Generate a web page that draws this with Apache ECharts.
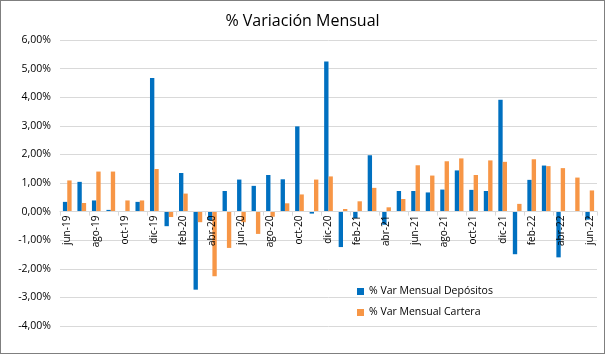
<!DOCTYPE html>
<html>
<head>
<meta charset="utf-8">
<script src="https://cdn.jsdelivr.net/npm/echarts@6/dist/echarts.min.js"></script>
<style>
  html, body { margin: 0; padding: 0; background: #fff; }
  #chart { width: 603px; height: 352px; border: 1px solid #7f7f7f; }
</style>
</head>
<body>
<div id="chart"></div>
<script>
// meses jun-19 .. jun-22
const meses = [
    'jun-19', 'jul-19', 'ago-19', 'sep-19', 'oct-19', 'nov-19', 'dic-19',
    'ene-20', 'feb-20', 'mar-20', 'abr-20', 'may-20', 'jun-20', 'jul-20', 'ago-20', 'sep-20', 'oct-20', 'nov-20', 'dic-20',
    'ene-21', 'feb-21', 'mar-21', 'abr-21', 'may-21', 'jun-21', 'jul-21', 'ago-21', 'sep-21', 'oct-21', 'nov-21', 'dic-21',
    'ene-22', 'feb-22', 'mar-22', 'abr-22', 'may-22', 'jun-22'
];

// valores en %
const depositos = [
    0.34, 1.04, 0.39, 0.06, 0.01, 0.34, 4.67,
    -0.51, 1.35, -2.73, -0.30, 0.72, 1.12, 0.90, 1.28, 1.13, 2.98, -0.07, 5.25,
    -1.24, -0.23, 1.97, -0.46, 0.72, 0.72, 0.67, 0.77, 1.44, 0.76, 0.72, 3.91,
    -1.49, 1.11, 1.61, -1.60, 0.02, -0.28
];

const cartera = [
    1.09, 0.30, 1.40, 1.40, 0.39, 0.39, 1.49,
    -0.19, 0.63, -0.37, -2.26, -1.27, -0.37, -0.78, -0.18, 0.29, 0.60, 1.12, 1.23,
    0.09, 0.36, 0.83, 0.15, 0.44, 1.62, 1.26, 1.76, 1.86, 1.28, 1.79, 1.74,
    0.27, 1.83, 1.59, 1.52, 1.19, 0.74
];

const ejeMin = -4;
const ejeMax = 6;

const fuente = 'Open Sans, Noto Sans, sans-serif';

const contenedor = document.getElementById('chart');
var myChart = echarts.init(contenedor);
var option;

// el eje de categorías va sobre la línea del 0%
const grid = { left: 59, right: 7, top: 39, bottom: 27 };
const altoGrid = contenedor.clientHeight - grid.top - grid.bottom;
const desplazamiento = -altoGrid * (0 - ejeMin) / (ejeMax - ejeMin);

option = {
    animation: false,
    title: {
        text: '% Variación Mensual',
        left: 'center',
        top: 7,
        textStyle: { fontFamily: fuente, fontSize: 16, fontWeight: 'normal', color: '#000' }
    },
    legend: {
        orient: 'vertical',
        left: 351,
        top: 280,
        itemWidth: 7,
        itemHeight: 7,
        itemGap: 10,
        icon: 'rect',
        textStyle: { fontFamily: fuente, fontSize: 10.5, color: '#000' }
    },
    grid: Object.assign({ outerBoundsMode: 'none' }, grid),
    xAxis: {
        type: 'category',
        data: meses,
        offset: desplazamiento,
        z: 5, // etiquetas encima de las barras, como en Excel
        axisLine: { onZero: false, lineStyle: { color: '#d9d9d9' } },
        axisTick: { show: true, interval: 1, length: 4, lineStyle: { color: '#d9d9d9' } },
        axisLabel: {
            interval: 1,
            rotate: 90,
            margin: 4,
            fontFamily: fuente,
            fontSize: 10,
            color: '#000'
        }
    },
    yAxis: {
        type: 'value',
        min: ejeMin,
        max: ejeMax,
        interval: 1,
        splitLine: { lineStyle: { color: '#d9d9d9' } },
        axisLabel: {
            fontFamily: fuente,
            fontSize: 10.5,
            color: '#000',
            margin: 9,
            formatter: function (v) {
                return v.toFixed(2).replace('.', ',') + '%';
            }
        }
    },
    series: [
        {
            name: '% Var Mensual Depósitos',
            type: 'bar',
            data: depositos,
            barGap: '0%',
            barCategoryGap: '40%',
            itemStyle: { color: '#0070c0' }
        },
        {
            name: '% Var Mensual Cartera',
            type: 'bar',
            data: cartera,
            itemStyle: { color: '#f79646' }
        }
    ]
};

option && myChart.setOption(option);
</script>
</body>
</html>
